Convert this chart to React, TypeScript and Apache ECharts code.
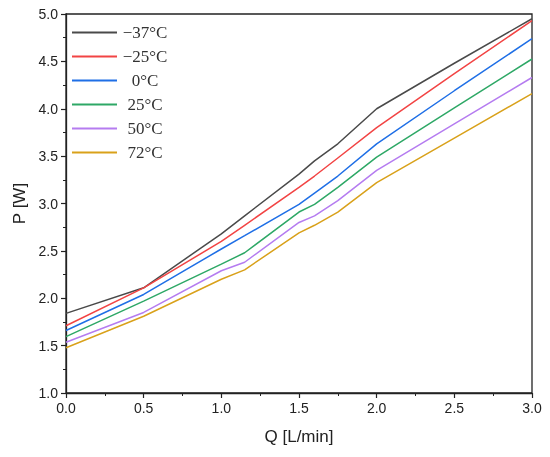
import React, { useEffect, useRef } from "react";
import * as echarts from "echarts";

const flowRates = [0, 0.5, 1.0, 1.15, 1.5, 1.6, 1.75, 2.0, 2.5, 3.0];
const seriesNames = ["\u221237\u00B0C", "\u221225\u00B0C", "0\u00B0C", "25\u00B0C", "50\u00B0C", "72\u00B0C"];
const pMinus37 = [1.84, 2.11, 2.68, 2.87, 3.31, 3.45, 3.63, 4.0, 4.48, 4.95];
const pMinus25 = [1.71, 2.11, 2.6, 2.77, 3.17, 3.29, 3.48, 3.8, 4.37, 4.93];
const p0 = [1.66, 2.04, 2.52, 2.66, 2.99, 3.11, 3.29, 3.63, 4.19, 4.74];
const p25 = [1.595, 1.97, 2.36, 2.48, 2.91, 2.99, 3.17, 3.49, 4.01, 4.525];
const p50 = [1.535, 1.85, 2.29, 2.38, 2.8, 2.87, 3.03, 3.35, 3.84, 4.33];
const p72 = [1.478, 1.81, 2.2, 2.3, 2.69, 2.77, 2.91, 3.22, 3.69, 4.16];
const seriesValues = [pMinus37, pMinus25, p0, p25, p50, p72];
const colors = ["#4a4a4a", "#f24444", "#1f6fe6", "#2ea866", "#b57cf0", "#d9a11a"];

export default function App() {
  const ref = useRef<HTMLDivElement>(null);
  useEffect(() => {
    if (!ref.current) return;
    const chart = echarts.init(ref.current, undefined, { renderer: "svg" });
    const axisFont = { fontFamily: "Liberation Sans", fontSize: 14, color: "#222" };
    chart.setOption({
      animation: false,
      grid: { left: 66, right: 18, top: 14, bottom: 64, show: true, borderColor: "#222", borderWidth: 1.3, backgroundColor: "transparent" },
      legend: {
        left: 72,
        top: 24,
        padding: 0,
        orient: "vertical",
        icon: "rect",
        itemWidth: 45,
        itemHeight: 2,
        itemGap: 7,
        data: seriesNames,
        formatter: (n: string) => "{c|" + n + "}",
        textStyle: {
          rich: {
            c: { width: 46, height: 15, lineHeight: 15, align: "center", fontFamily: "Liberation Serif", fontSize: 17, color: "#333" },
          },
        },
      },
      xAxis: {
        type: "value",
        min: 0,
        max: 3,
        interval: 0.5,
        name: "Q [L/min]",
        nameLocation: "middle",
        nameGap: 35,
        nameTextStyle: { fontFamily: "Liberation Sans", fontSize: 17, color: "#222" },
        axisLine: { show: true, lineStyle: { color: "#222", width: 1.3 } },
        axisTick: { show: true, inside: false, length: 5, lineStyle: { color: "#222", width: 1.2 } },
        minorTick: { show: true, splitNumber: 2, length: 3, lineStyle: { color: "#222", width: 1 } },
        splitLine: { show: false },
        axisLabel: { ...axisFont, margin: 8, formatter: (v: number) => v.toFixed(1) },
      },
      yAxis: {
        type: "value",
        min: 1,
        max: 5,
        interval: 0.5,
        name: "P [W]",
        nameLocation: "middle",
        nameGap: 33,
        nameTextStyle: { fontFamily: "Liberation Sans", fontSize: 17, color: "#222" },
        axisLine: { show: true, lineStyle: { color: "#222", width: 1.3 } },
        axisTick: { show: true, inside: false, length: 5, lineStyle: { color: "#222", width: 1.2 } },
        minorTick: { show: true, splitNumber: 2, length: 3, lineStyle: { color: "#222", width: 1 } },
        splitLine: { show: false },
        axisLabel: { ...axisFont, margin: 8, formatter: (v: number) => v.toFixed(1) },
      },
      series: seriesNames.map((name, i) => ({
        name,
        type: "line",
        symbol: "none",
        color: colors[i],
        lineStyle: { color: colors[i], width: 1.5 },
        data: flowRates.map((x, j) => [x, seriesValues[i][j]]),
      })),
    });
    return () => chart.dispose();
  }, []);
  return <div ref={ref} style={{ position: "fixed", left: 0, top: 0, width: 550, height: 457 }} />;
}
